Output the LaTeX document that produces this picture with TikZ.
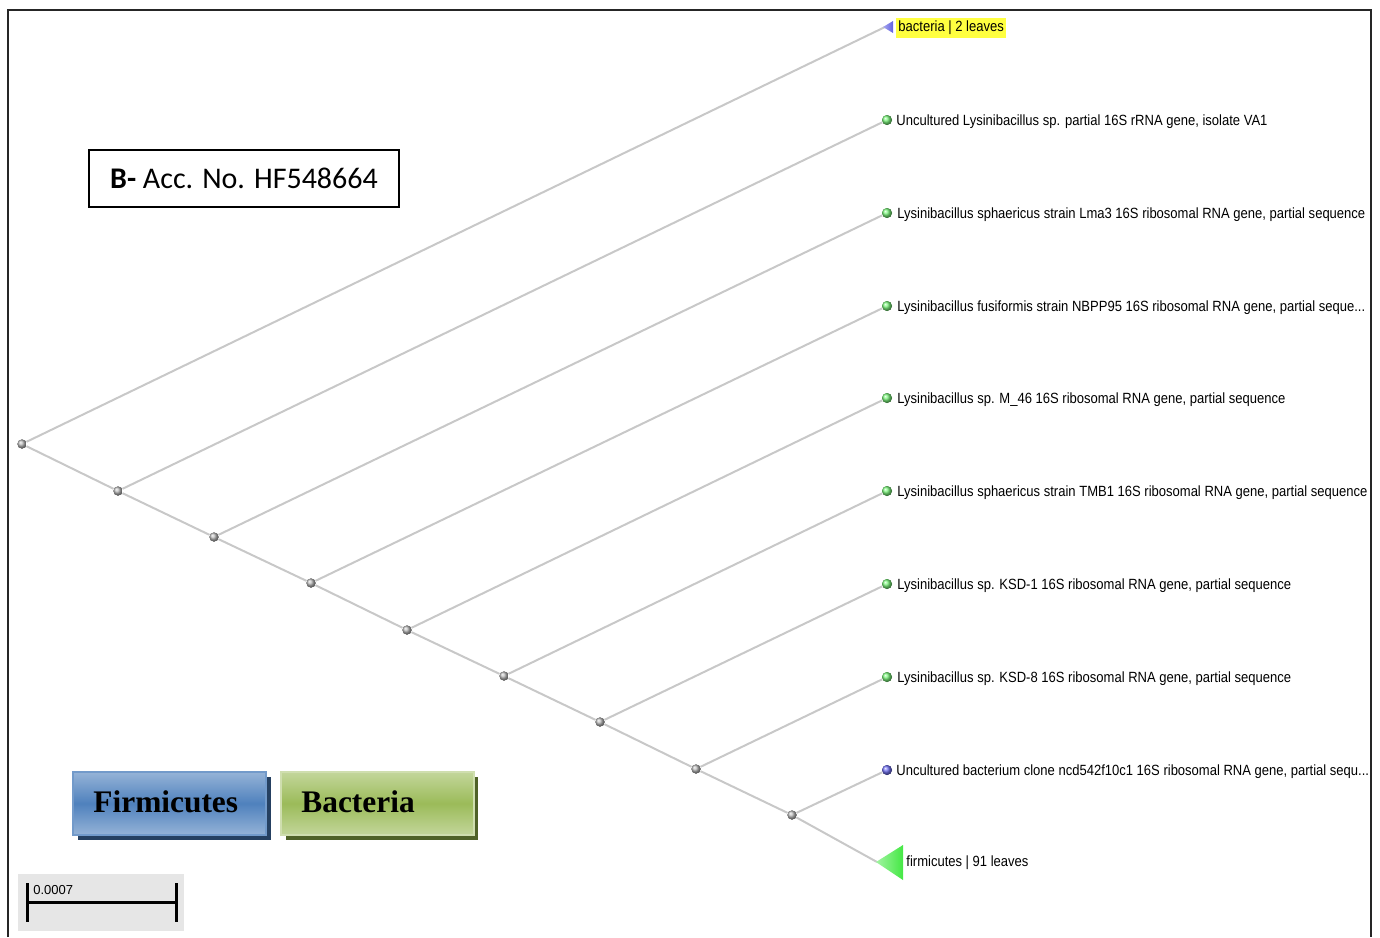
\documentclass[tikz,border=0pt]{standalone}
\usepackage{fontspec}
\setmainfont{Liberation Serif}
\newfontfamily\leaffont[FakeStretch=0.88]{Liberation Sans}
\newfontfamily\calibfont{Carlito}
\newfontfamily\barfont{Liberation Sans}
\definecolor{edgegray}{HTML}{C8C8C8}
\definecolor{leafgreen}{HTML}{5AF05A}
\definecolor{trigreen}{HTML}{44E844}
\definecolor{leafblue}{HTML}{5A5AF0}
\definecolor{triblue}{HTML}{6060E0}
\definecolor{hlyellow}{HTML}{FFFF40}
\definecolor{fblue}{HTML}{4F81BD}
\definecolor{fbluelight}{HTML}{95B3D7}
\definecolor{fblueshadow}{HTML}{254061}
\definecolor{bgreen}{HTML}{9BBB59}
\definecolor{bgreenlight}{HTML}{C3D69B}
\definecolor{bgreenshadow}{HTML}{4F6228}
\definecolor{scalegray}{HTML}{E6E6E6}
\begin{document}
\begin{tikzpicture}[x=0.5pt,y=-0.5pt,
  edge/.style={draw=edgegray, line width=1pt},
  inode/.style={circle, inner sep=0pt, minimum size=4.6pt, shading=ball, ball color=gray!55},
  gleaf/.style={circle, inner sep=0pt, minimum size=5pt, shading=ball, ball color=leafgreen!80!white},
  bleaf/.style={circle, inner sep=0pt, minimum size=5pt, shading=ball, ball color=leafblue!85!white},
  leaflabel/.style={anchor=west, inner sep=0pt, font=\leaffont\fontsize{7.4}{9}\selectfont},
  legendbox/.style={minimum width=96.5pt, minimum height=31.5pt, inner sep=0pt, line width=1pt},
  legendtext/.style={anchor=west, inner sep=0pt, font=\bfseries\fontsize{15.7}{18}\selectfont}
]
\useasboundingbox (0,0) rectangle (1380,937);
% frame
\draw[line width=1pt, black!85] (8,937) -- (8,10) -- (1371,10) -- (1371,937);

% tree nodes
\node[inode] (r) at (22,444) {};
\node[inode] (n1) at (118,491) {};
\node[inode] (n2) at (214,537) {};
\node[inode] (n3) at (311,583) {};
\node[inode] (n4) at (407,630) {};
\node[inode] (n5) at (504,676) {};
\node[inode] (n6) at (600,722) {};
\node[inode] (n7) at (696,769) {};
\node[inode] (n8) at (792,815) {};

\coordinate (lb) at (885,27);
\node[gleaf] (l1) at (887,120) {};
\node[gleaf] (l2) at (887,213) {};
\node[gleaf] (l3) at (887,306) {};
\node[gleaf] (l4) at (887,398) {};
\node[gleaf] (l5) at (887,491) {};
\node[gleaf] (l6) at (887,584) {};
\node[gleaf] (l7) at (887,677) {};
\node[bleaf] (l8) at (887,770) {};
\coordinate (lf) at (877,862);

\draw[edge] (r) -- (lb);
\draw[edge] (r) -- (n1);
\draw[edge] (n1) -- (l1);
\draw[edge] (n1) -- (n2);
\draw[edge] (n2) -- (l2);
\draw[edge] (n2) -- (n3);
\draw[edge] (n3) -- (l3);
\draw[edge] (n3) -- (n4);
\draw[edge] (n4) -- (l4);
\draw[edge] (n4) -- (n5);
\draw[edge] (n5) -- (l5);
\draw[edge] (n5) -- (n6);
\draw[edge] (n6) -- (l6);
\draw[edge] (n6) -- (n7);
\draw[edge] (n7) -- (l7);
\draw[edge] (n7) -- (n8);
\draw[edge] (n8) -- (l8);
\draw[edge] (n8) -- (lf);

% redraw node balls on top of the edges
\foreach \n in {r,n1,n2,n3,n4,n5,n6,n7,n8}{\node[inode] at (\n) {};}
\foreach \n in {l1,l2,l3,l4,l5,l6,l7}{\node[gleaf] at (\n) {};}
\node[bleaf] at (l8) {};

% collapsed clades
\shade[left color=triblue!55!white, right color=triblue] (883,27) -- (893,21) -- (893,33) -- cycle;
\node[leaflabel, fill=hlyellow, inner xsep=1pt, inner ysep=1.5pt] (tb) at (896,28) {bacteria | 2 leaves};
\shade[left color=trigreen!50!white, right color=trigreen] (876,862) -- (903,845) -- (903,880) -- cycle;
\node[leaflabel] (tf) at (906,863) {firmicutes | 91 leaves};

% leaf labels
\begin{scope}
\clip (0,0) rectangle (1369,937);
\node[leaflabel] (t1) at (896,122) {Uncultured Lysinibacillus sp. partial 16S rRNA gene, isolate VA1};
\node[leaflabel] (t2) at (897,215) {Lysinibacillus sphaericus strain Lma3 16S ribosomal RNA gene, partial sequence};
\node[leaflabel] (t3) at (897,308) {Lysinibacillus fusiformis strain NBPP95 16S ribosomal RNA gene, partial seque...};
\node[leaflabel] (t4) at (897,400) {Lysinibacillus sp. M\_46 16S ribosomal RNA gene, partial sequence};
\node[leaflabel] (t5) at (897,493) {Lysinibacillus sphaericus strain TMB1 16S ribosomal RNA gene, partial sequence};
\node[leaflabel] (t6) at (897,586) {Lysinibacillus sp. KSD-1 16S ribosomal RNA gene, partial sequence};
\node[leaflabel] (t7) at (897,679) {Lysinibacillus sp. KSD-8 16S ribosomal RNA gene, partial sequence};
\node[leaflabel] (t8) at (896,772) {Uncultured bacterium clone ncd542f10c1 16S ribosomal RNA gene, partial sequ...};
\end{scope}

% accession box
\node[draw=black, line width=1pt, minimum width=155pt, minimum height=28.5pt, inner sep=0pt,
      font=\calibfont\fontsize{15}{18}\selectfont] (acc) at (244,178.5) {\textbf{B-} Acc. No. HF548664};

% legend boxes
\fill[fblueshadow] (78,777) rectangle (271,840);
\node[legendbox, draw=fblue!80!white, top color=fbluelight, bottom color=fbluelight, middle color=fblue] (firm) at (169.5,803.5) {};
\node[legendtext] (firmt) at (93,802) {Firmicutes};
\fill[bgreenshadow] (286,777) rectangle (478,840);
\node[legendbox, draw=bgreenlight!80!white, top color=bgreenlight, bottom color=bgreenlight, middle color=bgreen] (bact) at (377,803.5) {};
\node[legendtext] (bactt) at (301,802) {Bacteria};

% scale bar
\fill[scalegray] (18,874) rectangle (184,931);
\draw[line width=1.5pt] (27,883) -- (27,922);
\draw[line width=1.5pt] (176,883) -- (176,922);
\draw[line width=1.5pt] (27,902) -- (176,902);
\node[anchor=south west, inner sep=0pt, font=\barfont\fontsize{6.5}{8}\selectfont] (sc) at (33,895) {0.0007};
\end{tikzpicture}
\end{document}
